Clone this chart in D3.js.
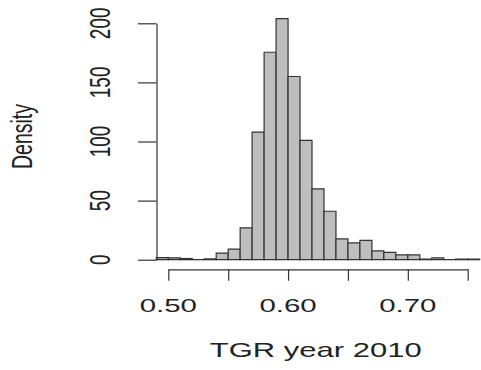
<!DOCTYPE html>
<html>
<head>
<meta charset="utf-8">
<script src="https://cdn.jsdelivr.net/npm/d3@7"></script>
<style>
  body { margin: 0; background: #fff; }
  text { font-family: "Liberation Sans", Arial, sans-serif; fill: #222; }
</style>
</head>
<body>
<script>
// histogram of TGR year 2010, bin width 0.01
var binStarts = [0.49, 0.50, 0.51, 0.52, 0.53, 0.54, 0.55, 0.56, 0.57, 0.58, 0.59,
                 0.60, 0.61, 0.62, 0.63, 0.64, 0.65, 0.66, 0.67, 0.68, 0.69,
                 0.70, 0.71, 0.72, 0.73, 0.74, 0.75];
var density = [1.8, 1.6, 1, 0, 0.7, 5.6, 9, 27, 108, 175.5, 204,
               155, 101, 60, 41, 17.6, 14.2, 16.4, 7.4, 6.2, 4,
               4, 0.5, 1.5, 0, 0.5, 0.5];
var binWidth = 0.01;
var xTicks = [0.50, 0.55, 0.60, 0.65, 0.70, 0.75];
var xLabels = [0.50, 0.60, 0.70];
var yTicks = [0, 50, 100, 150, 200];

var sx = 1.55; // the picture is stretched sideways

var svg = d3.select('body').append('svg')
    .attr('width', 481).attr('height', 370);

var x = d3.scaleLinear().domain([0.50, 0.75]).range([168.3, 467.7]);
var y = d3.scaleLinear().domain([0, 200]).range([259.7, 23.3]);

// bars (as paths so empty bins still show a line, like R)
svg.append('g').selectAll('path')
    .data(binStarts)
    .enter().append('path')
    .attr('d', function(d, i) {
        var x0 = x(d), x1 = x(d + binWidth), y0 = y(0), y1 = y(density[i]);
        return 'M' + x0 + ',' + y0 + 'H' + x1 + 'V' + y1 + 'H' + x0 + 'Z';
    })
    .attr('fill', '#bebebe')
    .attr('stroke', '#333')
    .attr('stroke-width', 1.2);

// y axis
svg.append('g')
    .attr('transform', 'translate(156.5,0)')
    .call(d3.axisLeft(y).tickValues(yTicks).tickSize(18.5).tickSizeOuter(0).tickFormat(''));

// x axis
svg.append('g')
    .attr('transform', 'translate(0,269.3)')
    .call(d3.axisBottom(x).tickValues(xTicks).tickSize(11.5).tickSizeOuter(0).tickFormat(''));

svg.selectAll('.domain, .tick line')
    .attr('stroke', '#333').attr('stroke-width', 1.2);

// y tick labels (rotated)
svg.append('g').selectAll('text')
    .data(yTicks)
    .enter().append('text')
    .attr('transform', function(d) { return 'translate(110,' + y(d) + ') scale(' + sx + ',1) rotate(-90)'; })
    .attr('text-anchor', 'middle')
    .style('font-size', '19px')
    .text(function(d) { return d; });

// x tick labels
svg.append('g').selectAll('text')
    .data(xLabels)
    .enter().append('text')
    .attr('transform', function(d) { return 'translate(' + x(d) + ',311.7) scale(' + sx + ',1)'; })
    .attr('text-anchor', 'middle')
    .style('font-size', '19px')
    .text(function(d) { return d3.format('.2f')(d); });

// axis titles
svg.append('text')
    .attr('transform', 'translate(315.7,357.3) scale(' + sx + ',1)')
    .attr('text-anchor', 'middle')
    .style('font-size', '20px')
    .text('TGR year 2010');

svg.append('text')
    .attr('transform', 'translate(31.7,136.5) scale(' + sx + ',1) rotate(-90)')
    .attr('text-anchor', 'middle')
    .style('font-size', '19.5px')
    .text('Density');
</script>
</body>
</html>
